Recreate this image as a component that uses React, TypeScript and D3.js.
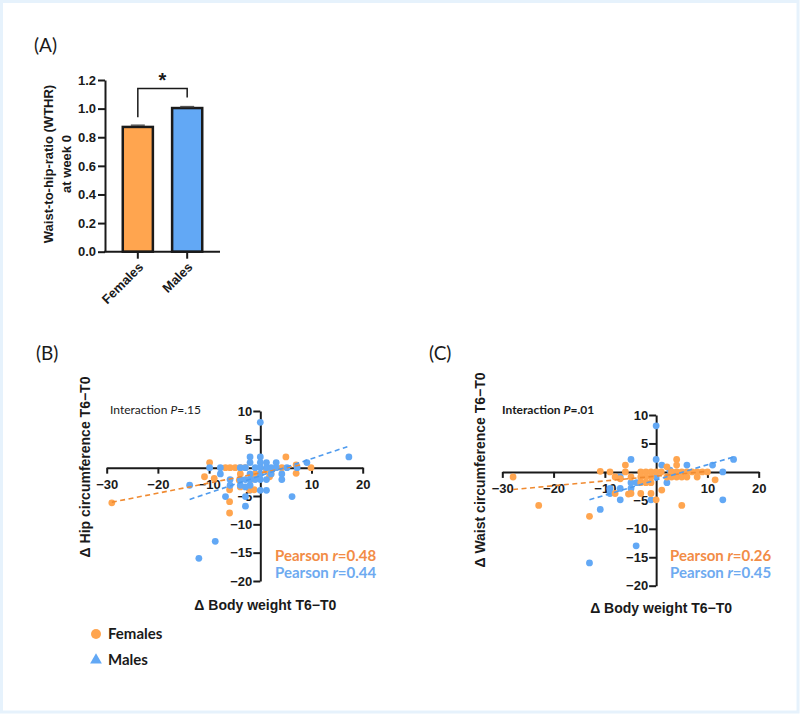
import { useEffect, useRef } from "react";
import * as d3 from "d3";

// Panel A: waist-to-hip ratio at week 0
const barCategories = ["Females", "Males"];
const barValues = [0.872, 1.004];
const barErrors = [0.012, 0.01];
const barTicks = [0, 0.2, 0.4, 0.6, 0.8, 1.0, 1.2];

// Panel B: change in hip circumference vs change in body weight
const hipFemales: [number, number][] = [
	[-29, -6.2], [-10.9, -1.6], [-9.9, 0.9], [-9, -1.9], [-6.8, 0], [-5.9, 0],
	[-4.9, 0], [-3.9, 0], [-3.9, -1.1], [-4.1, -2.2], [-3.9, -3.4], [-6, -3.9],
	[-6, -6], [-6, -8], [-2.1, -3.9], [-1.2, -3.9], [-1, -1.1], [1.2, -0.5],
	[1.8, -1.6], [2.1, -1.1], [4.2, 0], [5, 1.9], [7, 0.5], [7, -1],
	[9.9, 0], [-2.9, 0], [-1.5, -2],
];
const hipMales: [number, number][] = [
	[0, 8], [-2, 1.9], [0, 1.9], [-2, 0.9], [0, 0.9], [1.2, 0.9], [3.1, 0.9],
	[9.1, 0.9], [17.3, 1.9], [-9.9, 0], [-7.8, 0], [-3.9, 0], [-2.9, 0], [-1, 0],
	[0, 0], [1.2, 0], [2.1, 0], [3.1, 0], [5.2, 0], [7.2, 0], [-7.8, -1.1],
	[-2, -1.1], [0, -1.1], [2.1, -1.1], [4.2, -1.1], [-5.9, -2.1], [-3.9, -2.1],
	[-2.9, -2.1], [-2, -2.1], [-1, -2.1], [0, -2.1], [1.2, -2.1], [4.2, -2.1],
	[-13.8, -3.1], [-5.9, -3.1], [-3.9, -3.1], [-2.9, -3.4], [-2, -3.1],
	[0, -4], [1.2, -4], [-6.8, -5.1], [-2.9, -5.1], [6.2, -5.1], [-2.9, -6.8],
	[-8.8, -13], [-12, -16],
];
const hipFemaleFit: [number, number][] = [[-29, -6.1], [8, 0.5]];
const hipMaleFit: [number, number][] = [[-13.8, -5.6], [17, 3.7]];

// Panel C: change in waist circumference vs change in body weight
const waistFemales: [number, number][] = [
	[-27.9, -0.9], [-22.9, -5.9], [-13, -7.8], [-10.9, 0.1], [-9, 0], [-8, -0.9],
	[-8, -3.8], [-7, -1.2], [-6, 1.2], [-6, 0], [-4.9, -0.9], [-5.4, -3.9],
	[-4.9, -3.8], [-3, 0], [-2, 0], [-1, 0], [0, 0], [1, 0], [-3, -0.9],
	[-2, -0.9], [-1, -0.9], [-3, -1.9], [-2, -1.9], [-1, -1.9], [-3, -3.8],
	[-1, -3.8], [0, -4.9], [1.1, -3.2], [2.1, 0.9], [4, 2.2], [4, 1.2], [3, 0],
	[4, 0], [5, 0], [6, 0], [7, 0], [8, 0], [9, 0], [10, 0], [2.1, -0.9],
	[3, -0.9], [4, -0.9], [5, -0.9], [6, -0.9], [8, -0.9], [5, -5.9],
	[11.5, -1.4],
];
const waistMales: [number, number][] = [
	[0, 8.1], [-4.9, 2.2], [0, 2.2], [1.1, 1.2], [6, 1.2], [11, 1.2],
	[15.1, 2.2], [2.7, 0.3], [13, 0], [-7, -0.9], [0, -0.9], [-4.9, -1.9],
	[-3.8, -1.9], [2.1, -1.9], [-9, -2.9], [-7, -2.9], [-9, -3.8], [-7, -4.9],
	[-1, -4.9], [-10.9, -6.6], [13, -4.9], [-4.9, -2.9], [-3.9, -13], [-13, -16],
];
const waistFemaleFit: [number, number][] = [[-27.9, -3.1], [10, 0.1]];
const waistMaleFit: [number, number][] = [[-13, -4.9], [15, 2.6]];

const scatterXTicks = [-30, -20, -10, 10, 20];
const scatterYTicks = [-20, -15, -10, -5, 5, 10];

const ORANGE = "#ffa54f";
const BLUE = "#62a8f5";
const ORANGE_LINE = "#f08a30";
const BLUE_LINE = "#4f9bee";
const ORANGE_TEXT = "#f28c46";
const BLUE_TEXT = "#6eaaf0";
const INK = "#1a1a1a";
const ARIAL = "'Liberation Sans', Arial, sans-serif";
const SOFT = "Lato, 'Open Sans', sans-serif";

type ScatterCfg = {
	xRange: [number, number];
	yRange: [number, number];
	label: string;
	yTitle: string;
	yTitleX: number;
	yTitleY: number;
	xTitleY: number;
	interaction: string;
	interactionX: number;
	interactionBold: boolean;
	pearson: [string, string];
	pearsonX: number;
	labelX: number;
	females: [number, number][];
	males: [number, number][];
	femaleFit: [number, number][];
	maleFit: [number, number][];
	malesOnTop: boolean;
};

const App = () => {
	const svgRef = useRef<SVGSVGElement>(null);

	useEffect(() => {
		if (!svgRef.current) return;
		const svg = d3.select(svgRef.current);
		svg.selectAll("*").remove();

		// light frame around the figure
		svg
			.append("rect")
			.attr("x", 1.5)
			.attr("y", 1.5)
			.attr("width", 796.5)
			.attr("height", 710.5)
			.attr("fill", "white")
			.attr("stroke", "#e6f2fc")
			.attr("stroke-width", 3);

		// ---------- Panel A ----------
		const a = svg.append("g");
		a.append("text")
			.attr("x", 34)
			.attr("y", 52)
			.text("(A)")
			.style("font-family", SOFT)
			.style("font-size", "19px")
			.style("fill", INK);

		const yA = d3.scaleLinear().domain([0, 1.2]).range([251.7, 80]);
		const xA = d3
			.scaleBand()
			.domain(barCategories)
			.range([105, 220])
			.paddingInner(0.39)
			.paddingOuter(0.36);

		const yAxisA = a
			.append("g")
			.attr("transform", "translate(105,0)")
			.call(
				d3
					.axisLeft(yA)
					.tickValues(barTicks)
					.tickFormat(d3.format(".1f"))
					.tickSize(7)
					.tickSizeOuter(0)
					.tickPadding(2)
			);
		yAxisA.select(".domain").attr("stroke", INK).attr("stroke-width", 2);
		yAxisA.selectAll(".tick line").attr("stroke", INK).attr("stroke-width", 2);
		yAxisA
			.selectAll(".tick text")
			.style("font-family", ARIAL)
			.style("font-weight", "bold")
			.style("font-size", "13px")
			.style("fill", INK);

		const colorsA = [ORANGE, BLUE];
		a.selectAll(".bar")
			.data(barCategories)
			.enter()
			.append("rect")
			.attr("x", (d) => xA(d)!)
			.attr("y", (_d, i) => yA(barValues[i]))
			.attr("width", xA.bandwidth())
			.attr("height", (_d, i) => yA(0) - yA(barValues[i]))
			.attr("fill", (_d, i) => colorsA[i])
			.attr("stroke", INK)
			.attr("stroke-width", 2.5);

		// error bars
		barCategories.forEach((c, i) => {
			const cx = xA(c)! + xA.bandwidth() / 2;
			const top = yA(barValues[i] + barErrors[i]);
			a.append("line")
				.attr("x1", cx)
				.attr("x2", cx)
				.attr("y1", yA(barValues[i]))
				.attr("y2", top)
				.attr("stroke", INK)
				.attr("stroke-width", 1.5);
			a.append("line")
				.attr("x1", cx - 7)
				.attr("x2", cx + 7)
				.attr("y1", top)
				.attr("y2", top)
				.attr("stroke", "#555")
				.attr("stroke-width", 1.5);
		});

		// x axis
		a.append("line")
			.attr("x1", 104)
			.attr("x2", 220)
			.attr("y1", yA(0))
			.attr("y2", yA(0))
			.attr("stroke", INK)
			.attr("stroke-width", 2);
		barCategories.forEach((c) => {
			const cx = xA(c)! + xA.bandwidth() / 2;
			a.append("line")
				.attr("x1", cx)
				.attr("x2", cx)
				.attr("y1", yA(0))
				.attr("y2", yA(0) + 7)
				.attr("stroke", INK)
				.attr("stroke-width", 2);
			a.append("text")
				.attr("transform", `translate(${cx + 3},${yA(0) + 13}) rotate(-45)`)
				.attr("text-anchor", "end")
				.attr("dy", "0.35em")
				.text(c)
				.style("font-family", ARIAL)
				.style("font-weight", "bold")
				.style("font-size", "13px")
				.style("fill", INK);
		});

		// significance bracket
		const c0 = xA(barCategories[0])! + xA.bandwidth() / 2;
		const c1 = xA(barCategories[1])! + xA.bandwidth() / 2;
		a.append("path")
			.attr(
				"d",
				`M${c0},${yA(barValues[0] + barErrors[0]) - 8}V${yA(1.14)}H${c1}V${yA(
					barValues[1] + barErrors[1]
				) - 9}`
			)
			.attr("fill", "none")
			.attr("stroke", INK)
			.attr("stroke-width", 1.5);
		a.append("text")
			.attr("x", (c0 + c1) / 2)
			.attr("y", yA(1.14) - 2)
			.attr("text-anchor", "middle")
			.text("*")
			.style("font-family", ARIAL)
			.style("font-weight", "bold")
			.style("font-size", "20px")
			.style("fill", INK);

		// y title
		const yTitleA = a
			.append("text")
			.attr("transform", "translate(0,164) rotate(-90)")
			.attr("text-anchor", "middle")
			.style("font-family", ARIAL)
			.style("font-weight", "bold")
			.style("font-size", "13px")
			.style("fill", INK);
		yTitleA.append("tspan").attr("x", 0).attr("y", 53).text("Waist-to-hip-ratio (WTHR)");
		yTitleA.append("tspan").attr("x", 0).attr("y", 71).text("at week 0");

		// ---------- Scatter panels ----------
		const drawScatter = (cfg: ScatterCfg) => {
			const g = svg.append("g");
			const x = d3.scaleLinear().domain([-30, 20]).range(cfg.xRange);
			const y = d3.scaleLinear().domain([-20, 10]).range(cfg.yRange);

			g.append("text")
				.attr("x", cfg.labelX)
				.attr("y", 360)
				.text(cfg.label)
				.style("font-family", SOFT)
				.style("font-size", "19px")
				.style("fill", INK);

			const xAxis = g
				.append("g")
				.attr("transform", `translate(0,${y(0)})`)
				.call(
					d3
						.axisBottom(x)
						.tickValues(scatterXTicks)
						.tickSize(6)
						.tickSizeOuter(0)
						.tickPadding(6)
				);
			const yAxis = g
				.append("g")
				.attr("transform", `translate(${x(0)},0)`)
				.call(
					d3
						.axisLeft(y)
						.tickValues(scatterYTicks)
						.tickSize(7)
						.tickSizeOuter(0)
						.tickPadding(1)
				);
			[xAxis, yAxis].forEach((ax) => {
				ax.select(".domain").attr("stroke", INK).attr("stroke-width", 2);
				ax.selectAll(".tick line").attr("stroke", INK).attr("stroke-width", 2);
				ax.selectAll(".tick text")
					.style("font-family", ARIAL)
					.style("font-weight", "bold")
					.style("font-size", "13px")
					.style("fill", INK);
			});

			const line = d3
				.line<[number, number]>()
				.x((d) => x(d[0]))
				.y((d) => y(d[1]));

			const dots = (pts: [number, number][], color: string) =>
				g.append("g")
					.selectAll("circle")
					.data(pts)
					.enter()
					.append("circle")
					.attr("cx", (d) => x(d[0]))
					.attr("cy", (d) => y(d[1]))
					.attr("r", 3.4)
					.attr("fill", color);

			if (cfg.malesOnTop) {
				dots(cfg.females, ORANGE);
				dots(cfg.males, BLUE);
			} else {
				dots(cfg.males, BLUE);
				dots(cfg.females, ORANGE);
			}

			[
				[cfg.femaleFit, ORANGE_LINE],
				[cfg.maleFit, BLUE_LINE],
			].forEach(([pts, color]) => {
				g.append("path")
					.attr("d", line(pts as [number, number][]))
					.attr("fill", "none")
					.attr("stroke", color as string)
					.attr("stroke-width", 1.6)
					.attr("stroke-dasharray", "5,3.5");
			});

			// interaction annotation
			const it = g
				.append("text")
				.attr("x", cfg.interactionX)
				.attr("y", 414)
				.style("font-family", SOFT)
				.style("font-size", "12px")
				.style("font-weight", cfg.interactionBold ? "bold" : "normal")
				.style("fill", INK);
			it.append("tspan").text("Interaction ");
			it.append("tspan").style("font-style", "italic").text("P");
			it.append("tspan").text(cfg.interaction);

			// pearson annotations
			[
				[cfg.pearson[0], ORANGE_TEXT, 561],
				[cfg.pearson[1], BLUE_TEXT, 578],
			].forEach(([val, color, yy]) => {
				const t = g
					.append("text")
					.attr("x", cfg.pearsonX)
					.attr("y", yy as number)
					.style("font-family", SOFT)
					.style("font-size", "15px")
					.style("font-weight", "bold")
					.style("fill", color as string);
				t.append("tspan").text("Pearson ");
				t.append("tspan").style("font-style", "italic").text("r");
				t.append("tspan").text(`=${val}`);
			});

			// axis titles
			g.append("text")
				.attr("x", x(0) + 5)
				.attr("y", cfg.xTitleY)
				.attr("text-anchor", "middle")
				.text("Δ Body weight T6−T0")
				.style("font-family", ARIAL)
				.style("font-weight", "bold")
				.style("font-size", "14px")
				.style("fill", INK);
			g.append("text")
				.attr("transform", `translate(${cfg.yTitleX},${cfg.yTitleY}) rotate(-90)`)
				.attr("text-anchor", "middle")
				.text(cfg.yTitle)
				.style("font-family", ARIAL)
				.style("font-weight", "bold")
				.style("font-size", "14px")
				.style("fill", INK);
		};

		drawScatter({
			xRange: [106.7, 362.7],
			yRange: [581, 411],
			label: "(B)",
			labelX: 36,
			yTitle: "Δ Hip circumference T6−T0",
			yTitleX: 90,
			yTitleY: 467,
			xTitleY: 610,
			interaction: "=.15",
			interactionX: 110,
			interactionBold: false,
			pearson: ["0.48", "0.44"],
			pearsonX: 275,
			females: hipFemales,
			males: hipMales,
			femaleFit: hipFemaleFit,
			maleFit: hipMaleFit,
			malesOnTop: true,
		});

		drawScatter({
			xRange: [502.3, 758.7],
			yRange: [585.7, 415],
			label: "(C)",
			labelX: 429,
			yTitle: "Δ Waist circumference T6−T0",
			yTitleX: 485,
			yTitleY: 470,
			xTitleY: 613,
			interaction: "=.01",
			interactionX: 502,
			interactionBold: true,
			pearson: ["0.26", "0.45"],
			pearsonX: 670,
			females: waistFemales,
			males: waistMales,
			femaleFit: waistFemaleFit,
			maleFit: waistMaleFit,
			malesOnTop: false,
		});

		// legend
		const legend = svg.append("g");
		legend
			.append("circle")
			.attr("cx", 96)
			.attr("cy", 634)
			.attr("r", 5)
			.attr("fill", ORANGE);
		legend
			.append("path")
			.attr("d", d3.symbol(d3.symbolTriangle, 60)())
			.attr("transform", "translate(96,660)")
			.attr("fill", BLUE);
		[
			["Females", 634],
			["Males", 660],
		].forEach(([label, yy]) => {
			legend
				.append("text")
				.attr("x", 108)
				.attr("y", yy as number)
				.attr("dy", "0.35em")
				.text(label as string)
				.style("font-family", SOFT)
				.style("font-weight", "bold")
				.style("font-size", "15px")
				.style("fill", INK);
		});
	}, []);

	return (
		<svg
			ref={svgRef}
			width={800}
			height={714}
			style={{ position: "absolute", left: 0, top: 0, background: "white" }}
		/>
	);
};

export default App;
